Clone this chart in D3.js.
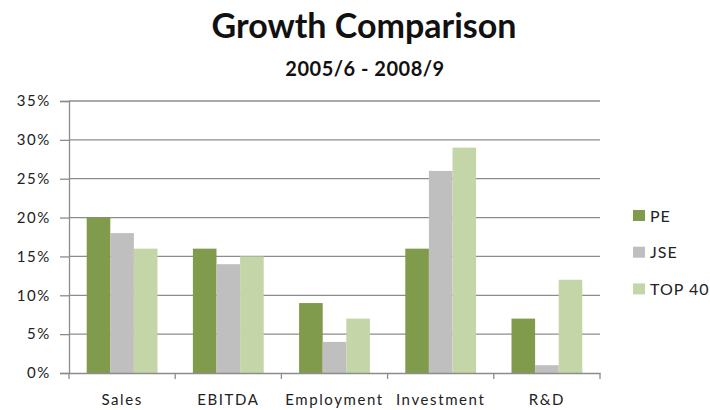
<!DOCTYPE html>
<html><head><meta charset="utf-8">
<script src="https://cdn.jsdelivr.net/npm/d3@7"></script>
<style>body{margin:0;background:#fff}svg{display:block}</style>
</head><body>
<svg id="c" width="710" height="410"></svg>
<script>
const categories = ["Sales", "EBITDA", "Employment", "Investment", "R&D"];
const seriesNames = ["PE", "JSE", "TOP 40"];
const pe = [20, 16, 9, 16, 7];
const jse = [18, 14, 4, 26, 1];
const top40 = [16, 15, 7, 29, 12];
const yTicks = [0, 5, 10, 15, 20, 25, 30, 35];
const colors = ["#7f9b4b", "#bfbfbf", "#c4d6a8"];
const seriesValues = [pe, jse, top40];

const svg = d3.select("#c");
const font = "Lato, 'Open Sans', sans-serif";
const m = {l: 69, r: 600, t: 101, b: 373};

const x = d3.scaleBand().domain(categories).range([m.l, m.r]).paddingInner(0).paddingOuter(0);
const xs = d3.scaleBand().domain(seriesNames).range([0, x.bandwidth()]).paddingInner(0).paddingOuter(0.75);
const y = d3.scaleLinear().domain([0, 35]).range([m.b, m.t]);

// gridlines
svg.append("g").selectAll("line").data(yTicks.filter(d => d > 0)).join("line")
  .attr("x1", m.l).attr("x2", m.r)
  .attr("y1", d => y(d)).attr("y2", d => y(d))
  .attr("stroke", "#8c8c8c").attr("stroke-width", 1.3);

// y axis
const ya = svg.append("g").attr("transform", `translate(${m.l},0)`)
  .call(d3.axisLeft(y).tickValues(yTicks).tickFormat(d => d + "%").tickSize(9).tickPadding(9));
ya.select(".domain").attr("stroke", "#8c8c8c").attr("stroke-width", 1.3);
ya.selectAll(".tick line").attr("stroke", "#8c8c8c").attr("stroke-width", 1.3);
ya.selectAll("text").attr("font-family", font).attr("font-size", 15).attr("letter-spacing", 1.6).attr("fill", "#222");

// bars
const groups = svg.append("g").selectAll("g").data(categories).join("g")
  .attr("transform", d => `translate(${x(d)},0)`);
groups.selectAll("rect").data((c, i) => seriesNames.map((s, j) => ({s, v: seriesValues[j][i], j})))
  .join("rect")
  .attr("x", d => xs(d.s)).attr("width", xs.bandwidth())
  .attr("y", d => y(d.v)).attr("height", d => y(0) - y(d.v))
  .attr("fill", d => colors[d.j]);

// x axis
const xa = svg.append("g").attr("transform", `translate(0,${m.b})`)
  .call(d3.axisBottom(x).tickSize(0).tickPadding(21));
xa.select(".domain").attr("stroke", "#8c8c8c").attr("stroke-width", 1.3);
xa.selectAll("text").attr("font-family", font).attr("font-size", 15).attr("letter-spacing", 1.6).attr("fill", "#222");
const bounds = categories.map(c => x(c)).concat([m.r]);
svg.append("g").selectAll("line").data(bounds).join("line")
  .attr("x1", d => d).attr("x2", d => d).attr("y1", m.b).attr("y2", m.b + 6)
  .attr("stroke", "#8c8c8c").attr("stroke-width", 1.3);

// titles
svg.append("text").attr("x", 364).attr("y", 38).attr("text-anchor", "middle")
  .attr("font-family", font).attr("font-weight", "bold").attr("font-size", 34).attr("fill", "#111").text("Growth Comparison");
svg.append("text").attr("x", 365).attr("y", 76).attr("text-anchor", "middle")
  .attr("font-family", font).attr("font-weight", "bold").attr("font-size", 20).attr("letter-spacing", 0.5).attr("fill", "#111").text("2005/6 - 2008/9");

// legend
const lg = svg.append("g").selectAll("g").data(seriesNames).join("g")
  .attr("transform", (d, i) => `translate(633,${210 + i * 36.7})`);
lg.append("rect").attr("width", 12).attr("height", 11).attr("fill", (d, i) => colors[i]);
lg.append("text").attr("x", 17).attr("y", 6).attr("dy", "0.35em")
  .attr("font-family", font).attr("font-size", 16).attr("letter-spacing", 1).attr("fill", "#222").text(d => d);
</script>
</body></html>
